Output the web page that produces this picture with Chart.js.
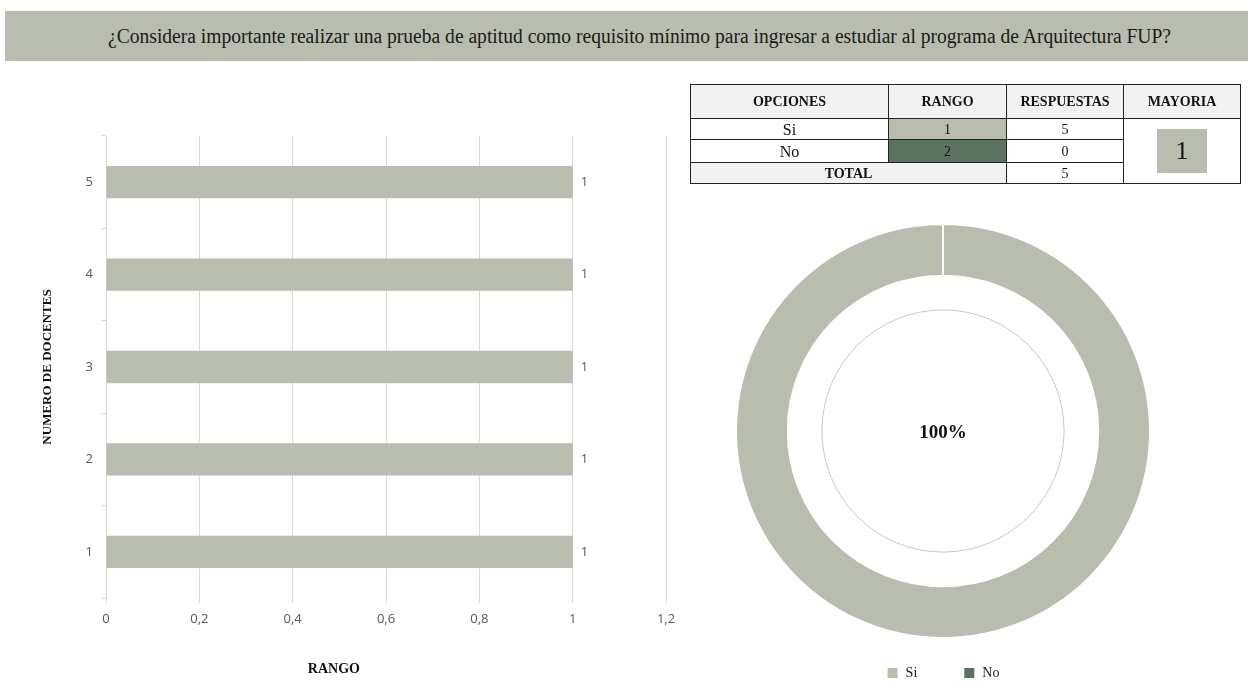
<!DOCTYPE html>
<html>
<head>
<meta charset="utf-8">
<script src="https://cdn.jsdelivr.net/npm/chart.js@4.4.0/dist/chart.umd.min.js"></script>
<style>
  html, body { margin:0; padding:0; background:#fff; }
  body { width:1248px; height:681px; overflow:hidden; position:relative; }
  #title { position:absolute; left:5px; top:11px; width:1243px; height:50px; background:#b9bdb0; }
  #titleText { position:absolute; left:103px; top:50%; font-family:"Liberation Serif", serif; font-size:20px; color:#1a1a1a;
               white-space:nowrap; display:inline-block; transform-origin:left center; line-height:24px; margin-top:-12px; }
  #barCanvas { position:absolute; left:0; top:70px; }
  #pieCanvas { position:absolute; left:700px; top:212px; }
  #tbl { position:absolute; left:690px; top:84px; width:550px; border-collapse:collapse; table-layout:fixed;
         font-family:"Liberation Serif", serif; color:#111; }
  #tbl th, #tbl td { border:1.5px solid #222; padding:0; text-align:center; vertical-align:middle; }
  #tbl th { background:#f2f2f2; font-weight:bold; font-size:14px; height:33px; }
  #tbl td { font-size:14px; line-height:15px; }
  #tbl td.opt { font-size:16px; }
  #tbl td.tot { background:#f2f2f2; font-weight:bold; font-size:14px; }
  #tbl td.may { background:#fff; }
  #tbl .box { width:50px; height:44px; margin:0 auto; background:#b8bdb0; font-size:26px; line-height:44px; }
</style>
</head>
<body>
<div id="title"><span id="titleText"></span></div>
<canvas id="barCanvas" width="700" height="611"></canvas>
<table id="tbl"></table>
<canvas id="pieCanvas" width="486" height="478"></canvas>
<script>
// ---------- DATA ----------
const titleText = '¿Considera importante realizar una prueba de aptitud como requisito mínimo para ingresar a estudiar al programa de Arquitectura FUP?';
const docentes = ['1', '2', '3', '4', '5'];          // y categories (bottom to top)
const rangoPorDocente = [1, 1, 1, 1, 1];             // bar values
const xTickLabels = ['0', '0,2', '0,4', '0,6', '0,8', '1', '1,2'];
const opciones = ['Si', 'No'];
const rangos = [1, 2];
const respuestas = [5, 0];
const xAxisTitle = 'RANGO';
const yAxisTitle = 'NUMERO DE DOCENTES';
const tableHeaders = ['OPCIONES', 'RANGO', 'RESPUESTAS', 'MAYORIA'];

// ---------- TITLE ----------
const tt = document.getElementById('titleText');
tt.textContent = titleText;
const natural = tt.getBoundingClientRect().width;
tt.style.transform = 'scaleX(' + (1063 / natural) + ')';

// ---------- TABLE ----------
const total = respuestas.reduce((a, b) => a + b, 0);
const maxIdx = respuestas.indexOf(Math.max(...respuestas));
const mayoria = rangos[maxIdx];
const rangoFills = ['#b8bdb0', '#5b7361'];
let html = '<colgroup><col style="width:198px"><col style="width:118px"><col style="width:117px"><col style="width:117px"></colgroup>';
html += '<tr>' + tableHeaders.map(h => '<th>' + h + '</th>').join('') + '</tr>';
const rowH = [21, 23];
opciones.forEach((o, i) => {
  html += '<tr style="height:' + rowH[i] + 'px"><td class="opt">' + o + '</td><td style="background:' + rangoFills[i] + '">' + rangos[i] + '</td><td>' + respuestas[i] + '</td>';
  if (i === 0) html += '<td class="may" rowspan="' + (opciones.length + 1) + '"><div class="box">' + mayoria + '</div></td>';
  html += '</tr>';
});
html += '<tr style="height:21px"><td class="tot" colspan="2">TOTAL</td><td>' + total + '</td></tr>';
document.getElementById('tbl').innerHTML = html;

// ---------- BAR CHART ----------
const GRID = '#d9d9d9';
const TICK = '#595959';
const valueLabels = {
  id: 'valueLabels',
  afterDatasetsDraw(chart) {
    const ctx = chart.ctx;
    const meta = chart.getDatasetMeta(0);
    ctx.save();
    ctx.font = '13px "Open Sans", sans-serif';
    ctx.fillStyle = TICK;
    ctx.textAlign = 'left';
    ctx.textBaseline = 'middle';
    meta.data.forEach((bar, i) => {
      ctx.fillText(String(chart.data.datasets[0].data[i]).replace('.', ','), bar.x + 8, bar.y);
    });
    ctx.restore();
  }
};
// x-axis title drawn left of centre, as in the reference
const xTitlePlugin = {
  id: 'xTitle',
  afterDraw(chart) {
    const a = chart.chartArea;
    const ctx = chart.ctx;
    ctx.save();
    ctx.font = 'bold 14px "Liberation Serif", serif';
    ctx.fillStyle = '#111';
    ctx.textAlign = 'center';
    ctx.textBaseline = 'middle';
    ctx.fillText(xAxisTitle, a.left + a.width * 0.407, chart.height - 12);
    ctx.restore();
  }
};

new Chart(document.getElementById('barCanvas'), {
  type: 'bar',
  data: {
    labels: docentes,
    datasets: [{
      data: rangoPorDocente,
      backgroundColor: '#b8bdb0',
      borderWidth: 0,
      categoryPercentage: 1,
      barPercentage: 0.35
    }]
  },
  options: {
    indexAxis: 'y',
    responsive: false,
    animation: false,
    layout: { padding: { left: 36, right: 34, top: 66, bottom: 0 } },
    plugins: { legend: { display: false }, tooltip: { enabled: false } },
    scales: {
      x: {
        min: 0, max: 1.2,
        afterFit(s) { s.height = 83; },
        ticks: {
          stepSize: 0.2, autoSkip: false, maxRotation: 0, padding: 8,
          color: TICK, font: { family: '"Open Sans", sans-serif', size: 13 },
          callback: (v, i) => xTickLabels[i]
        },
        grid: { color: GRID, lineWidth: 1, tickLength: 5, drawTicks: true },
        border: { display: false },
        title: { display: false }
      },
      y: {
        reverse: true,
        afterFit(s) { s.width = 70; },
        ticks: { padding: 8, color: TICK, font: { family: '"Open Sans", sans-serif', size: 13 } },
        grid: { color: GRID, drawOnChartArea: false, tickLength: 5, offset: true },
        border: { display: true, color: GRID },
        title: { display: true, text: yAxisTitle, color: '#111',
                 font: { family: '"Liberation Serif", serif', size: 13, weight: 'bold' } }
      }
    }
  },
  plugins: [valueLabels, xTitlePlugin]
});

// ---------- DOUGHNUT ----------
const centerDecor = {
  id: 'centerDecor',
  afterDraw(chart) {
    const arc = chart.getDatasetMeta(0).data[0];
    if (!arc) return;
    const { x, y, innerRadius } = arc.getProps(['x', 'y', 'innerRadius'], true);
    const ctx = chart.ctx;
    ctx.save();
    ctx.beginPath();
    ctx.arc(x, y, innerRadius * 0.78, 0, Math.PI * 2);
    ctx.strokeStyle = '#c8c8c8';
    ctx.lineWidth = 1;
    ctx.stroke();
    const data = chart.data.datasets[0].data;
    const sum = data.reduce((a, b) => a + b, 0);
    const pct = Math.round(Math.max(...data) / sum * 100) + '%';
    ctx.font = 'bold 19px "Liberation Serif", serif';
    ctx.fillStyle = '#111';
    ctx.textAlign = 'center';
    ctx.textBaseline = 'middle';
    ctx.fillText(pct, x, y + 2);
    ctx.restore();
  }
};

new Chart(document.getElementById('pieCanvas'), {
  type: 'doughnut',
  data: {
    labels: opciones,
    datasets: [{
      data: respuestas,
      backgroundColor: ['#b8bdb0', '#5b7361'],
      borderColor: '#ffffff',
      borderWidth: 2,
      radius: 207,
      cutout: '75%',
      clip: false
    }]
  },
  options: {
    responsive: false,
    animation: false,
    layout: { padding: { top: 30, left: 0, right: 0, bottom: 0 } },
    plugins: {
      tooltip: { enabled: false },
      legend: {
        position: 'bottom',
        labels: {
          boxWidth: 12, boxHeight: 12, padding: 46, color: '#222',
          font: { family: '"Liberation Serif", serif', size: 14 }
        }
      }
    }
  },
  plugins: [centerDecor]
});
</script>
</body>
</html>
